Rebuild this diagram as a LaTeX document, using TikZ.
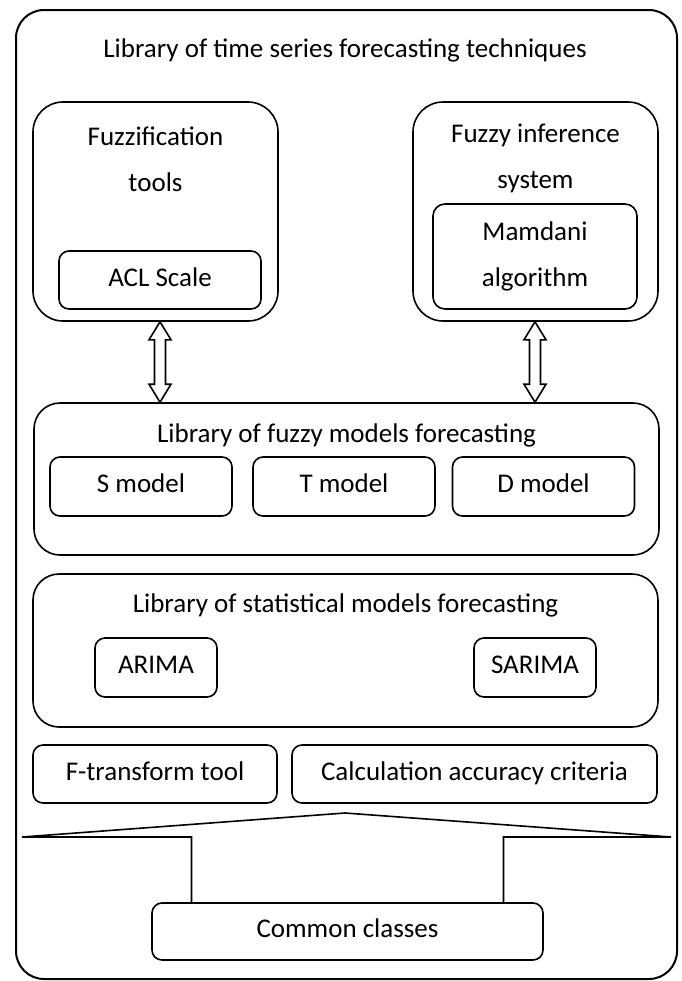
\documentclass[tikz,border=0pt]{standalone}
\usepackage{fontspec}
\setmainfont{Carlito}
\usetikzlibrary{calc,positioning}
\tikzset{
    frame/.style={draw, line width=1pt, rounded corners=14pt},
    group/.style={draw, line width=0.8pt, rounded corners=13pt},
    box/.style={draw, line width=0.8pt, rounded corners=5pt, font=\fontsize{13.5}{23}\selectfont, text height=9pt, text depth=3pt},
    tallbox/.style={draw, line width=0.8pt, rounded corners=6pt, font=\fontsize{13.5}{23}\selectfont, align=center},
    caption/.style={font=\fontsize{13.5}{23}\selectfont, align=center},
    flow/.style={draw, line width=0.8pt, fill=white}
}
% hollow two-headed arrow between two points on one vertical
\newcommand{\twoway}[2]{%
  \path[flow] let \p1=#1, \p2=#2 in
    (\x1,\y1) -- (\x1+5.5pt,\y1-9pt) -- (\x1+2.75pt,\y1-9pt) -- (\x1+2.75pt,\y2+9pt)
    -- (\x1+5.5pt,\y2+9pt) -- (\x1,\y2) -- (\x1-5.5pt,\y2+9pt) -- (\x1-2.75pt,\y2+9pt)
    -- (\x1-2.75pt,\y1-9pt) -- (\x1-5.5pt,\y1-9pt) -- cycle;}

\begin{document}
\begin{tikzpicture}[x=0.5pt, y=-0.5pt]
    \useasboundingbox (0,0) rectangle (681,981);

    \node[frame, minimum width=330.5pt, minimum height=484.5pt] (lib) at (346.5,494.5) {};
    \node[caption] (libtitle) at (345,50) {Library of time series forecasting techniques};

    \node[group, rounded corners=15pt, minimum width=122.5pt, minimum height=109.5pt] (fuzz) at (155.5,211.5) {};
    \node[caption] (fuzztitle) at (155.5,159) {Fuzzification\\tools};
    \node[box, minimum width=101pt, minimum height=29pt] (acl) at (160,280) {ACL Scale};

    \node[group, rounded corners=15pt, minimum width=122.5pt, minimum height=109.5pt] (fis) at (535.5,211.5) {};
    \node[caption] (fistitle) at (535.5,158.5) {Fuzzy inference\\system};
    \node[tallbox, minimum width=102pt, minimum height=52.5pt] (mamdani) at (535,256.5) {Mamdani\\algorithm};

    \node[group, minimum width=312.5pt, minimum height=76pt] (fuzlib) at (346.5,479) {};
    \node[caption] (fuzlibtitle) at (346.5,435) {Library of fuzzy models forecasting};
    \node[box, minimum width=91pt, minimum height=29.5pt] (smod) at (141,486.5) {S model};
    \node[box, minimum width=91pt, minimum height=29.5pt] (tmod) at (344,486.5) {T model};
    \node[box, minimum width=91pt, minimum height=29.5pt] (dmod) at (543.5,486.5) {D model};

    \node[group, minimum width=312.5pt, minimum height=76.5pt] (statlib) at (345.5,650.5) {};
    \node[caption] (statlibtitle) at (345.5,605) {Library of statistical models forecasting};
    \node[box, minimum width=61pt, minimum height=29.5pt] (arima) at (156,667.5) {ARIMA};
    \node[box, minimum width=61pt, minimum height=29.5pt] (sarima) at (535,667.5) {SARIMA};

    \node[box, minimum width=122pt, minimum height=29pt] (ftr) at (155,774) {F-transform tool};
    \node[box, minimum width=182.5pt, minimum height=29pt] (acc) at (474.5,774) {Calculation accuracy criteria};

    \node[box, minimum width=195.5pt, minimum height=28.5pt] (common) at (347.5,931.5) {Common classes};

    \twoway{(acl |- fuzz.south)}{(acl |- fuzlib.north)}
    \twoway{(mamdani |- fis.south)}{(mamdani |- fuzlib.north)}

    \coordinate (apex) at (345,813);
    \draw[line width=0.8pt] ([xshift=-78pt]common.north) |- (22,837) -- (apex) -- (671,837) -| ([xshift=78pt]common.north);
\end{tikzpicture}
\end{document}
